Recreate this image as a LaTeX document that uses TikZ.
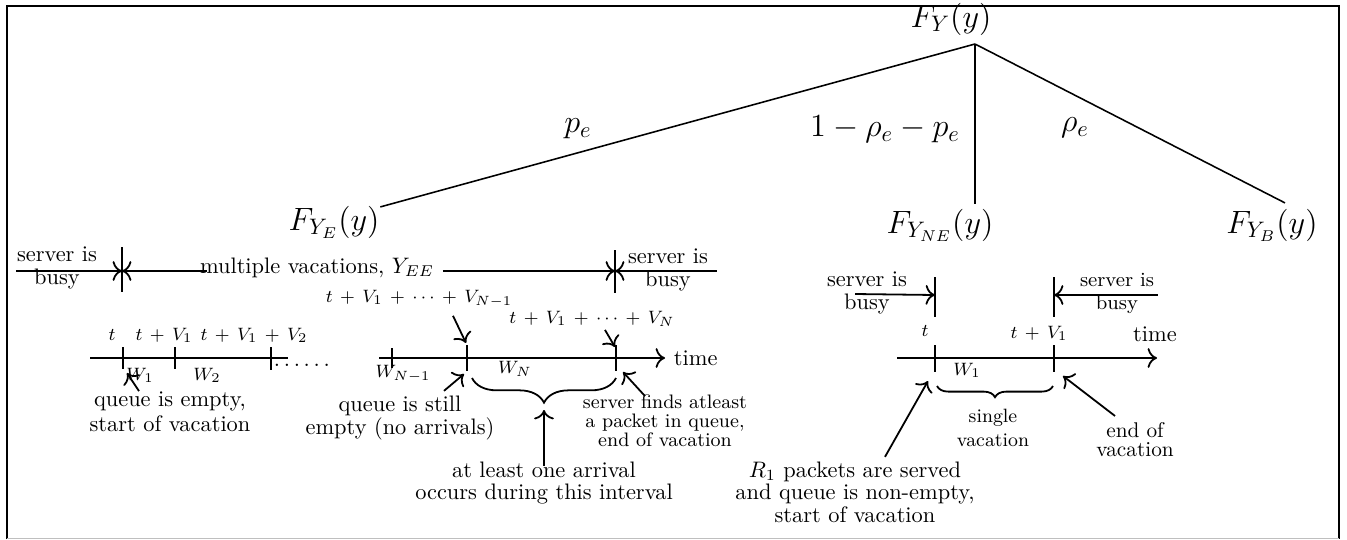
\documentclass[tikz,border=0pt]{standalone}
\usetikzlibrary{decorations.pathreplacing,calc,arrows.meta}
\begin{document}
\begin{tikzpicture}[x=0.4464pt,y=-0.4464pt, line width=0.8pt, >={To[scale=1.25]},
  txt/.style={inner sep=0pt, align=center, font=\fontsize{10}{10.5}\selectfont},
  sm/.style={inner sep=0pt, font={\footnotesize\medmuskip=7mu\relax}},
  big/.style={inner sep=0pt, font=\fontsize{13.7}{16}\selectfont},
  tree/.style={line width=0.7pt},
  br/.style={decorate, decoration={brace, mirror, amplitude=#1}}]
\useasboundingbox (0,0) rectangle (1347,539);
% frame
\draw[line width=0.9pt] (7,539) -- (7,6) -- (1339,6) -- (1339,539);
\draw[black!25, line width=0.5pt] (7,538.5) -- (1339,538.5);

% ---------------- tree ----------------
\node[big, anchor=base] (FY) at (951,27) {$F_Y(y)$};
\coordinate (apex) at (975,44);
\node[big, anchor=base] (FYE) at (334,230) {$F_{Y_E}(y)$};
\node[big, anchor=base] (FYNE) at (940,233) {$F_{Y_{NE}}(y)$};
\node[big, anchor=base] (FYB) at (1272,233) {$F_{Y_B}(y)$};
\draw[tree] (apex) -- ($(FYE.north east)+(0,2)$);
\draw[tree] (apex) -- ($(apex |- FYNE.north)+(0,-4)$);
\draw[tree] (apex) -- ($(FYB.north)+(13,-5)$);
\node[big] (pe) at (578,129) {$p_e$};
\node[big] (mid) at (885,129) {$1-\rho_e-p_e$};
\node[big] (rho) at (1075,128) {$\rho_e$};

% ---------------- multiple vacations ----------------
\coordinate (r1) at (0,271);
\coordinate (t1) at (122,271);
\coordinate (t2) at (615,271);
\node[txt] (sb1) at (57,268) {server is\\busy};
\node[txt, anchor=base] (mv) at (317,273) {multiple vacations, $Y_{EE}$};
\node[txt] (sb2) at (668,270) {server is\\busy};
\draw ($(t1)+(0,-24)$) -- ($(t1)+(0,21)$);
\draw ($(t2)+(0,-21)$) -- ($(t2)+(0,22)$);
\draw[->] (sb1.west |- r1) -- (t1);
\draw[->] ($(mv.west |- r1)+(8,0)$) -- (t1);
\draw[->] ($(mv.east |- r1)+(8,0)$) -- (t2);
\draw[->] ($(sb2.east |- r1)+(8,0)$) -- (t2);

% left timeline
\coordinate (a0) at (90,358);
\coordinate (a1) at (288,358);
\coordinate (ta) at (123,358);
\coordinate (tb) at (175,358);
\coordinate (tc) at (271,358);
\draw (a0) -- (a1);
\draw ($(ta)+(0,-11)$) -- ($(ta)+(0,11)$);
\draw ($(tb)+(0,-11)$) -- ($(tb)+(0,11)$);
\draw ($(tc)+(0,-11)$) -- ($(tc)+(0,12)$);
\node[txt, anchor=base west] (dots) at (273,366) {$\ldots\ldots$};
\node[sm, anchor=base] (lt) at (112,340) {$t$};
\node[sm, anchor=base] (ltv) at (164,340) {$t+V_1$};
\node[sm, anchor=base] (ltvv) at (254,340) {$t+V_1+V_2$};
\node[sm, anchor=base] (lw1) at (140,380) {$W_1$};
\node[sm, anchor=base] (lw2) at (207,380) {$W_2$};
\node[txt, font=\fontsize{10}{11.2}\selectfont] (qe) at (170,412) {queue is empty,\\start of vacation};
\draw[->] ($(qe.north)+(-31,0)$) -- ($(ta)+(4,15)$);

% middle timeline
\coordinate (m0) at (379,358);
\coordinate (tm1) at (392,358);
\coordinate (tm2) at (467,358);
\coordinate (tm3) at (616,358);
\node[txt, anchor=west] (time1) at (673,358) {time};
\draw[->] (m0) -- ($(time1.west)+(-8,0)$);
\draw ($(tm1)+(0,-10)$) -- ($(tm1)+(0,10)$);
\draw ($(tm2)+(0,-13)$) -- ($(tm2)+(0,13)$);
\draw ($(tm3)+(0,-13)$) -- ($(tm3)+(0,13)$);
\node[sm, anchor=base] (lvn1) at (419,302) {$t+V_1+\cdots+V_{N-1}$};
\node[sm, anchor=base] (lvn) at (592,323) {$t+V_1+\cdots+V_N$};
\draw[->] ($(lvn1.south)+(34,8)$) -- ($(tm2)+(-1,-15)$);
\draw[->] ($(lvn.south)+(13,3)$) -- ($(tm3)+(-1,-11)$);
\node[sm, anchor=base] (wn1) at (403,377) {$W_{N-1}$};
\node[sm, anchor=base] (wn) at (515,373) {$W_N$};
\draw[br=11pt] ($(tm2)+(5,20)$) -- ($(tm3)+(0,20)$);
\coordinate (btip) at (544,410);
\node[txt, font=\fontsize{10}{9.9}\selectfont] (al) at (544,483) {at least one arrival\\occurs during this interval};
\draw[->] ($(al.north)+(0,5)$) -- (btip);
\node[txt, font=\fontsize{10}{9}\selectfont] (qs) at (400,418) {queue is still\\empty (no arrivals)};
\draw[->] ($(qs.north)+(44,-4)$) -- ($(tm2)+(-3,16)$);
\node[txt, font=\fontsize{8.7}{8.5}\selectfont] (sf) at (665,421) {server finds atleast\\a packet in queue,\\end of vacation};
\draw[->] ($(sf.north)+(-20,2)$) -- ($(tm3)+(7,14)$);

% ---------------- single vacation ----------------
\coordinate (ur1) at (935,295);
\coordinate (ur2) at (1054,295);
\node[txt] (sb3) at (867,293) {server is\\busy};
\node[txt, font=\fontsize{9}{10.3}\selectfont] (sb4) at (1117,293) {server is\\busy};
\draw ($(ur1)+(0,-18)$) -- ($(ur1)+(0,22)$);
\draw ($(ur2)+(0,-18)$) -- ($(ur2)+(0,22)$);
\draw[->] ($(sb3.center)+(-12,1)$) -- (ur1);
\draw[->] ($(sb4.east |- ur2)+(3,0)$) -- (ur2);

\coordinate (s0) at (897,358);
\coordinate (s1) at (1157,358);
\coordinate (tr1) at (935,358);
\coordinate (tr2) at (1054,358);
\draw[->] (s0) -- (s1);
\node[txt, anchor=base] (time2) at (1155,341) {time};
\draw ($(tr1)+(0,-13)$) -- ($(tr1)+(0,14)$);
\draw ($(tr2)+(0,-13)$) -- ($(tr2)+(0,14)$);
\node[sm, anchor=base] (rt) at (925,336) {$t$};
\node[sm, anchor=base] (rtv) at (1039,338) {$t+V_1$};
\node[sm, anchor=base] (rw1) at (967,375) {$W_1$};
\draw[br=5pt] ($(tr1)+(2,28)$) -- ($(tr2)+(-1,28)$);
\node[txt, font=\fontsize{8.6}{10.7}\selectfont] (sv) at (993,428) {single\\vacation};
\node[txt, font=\fontsize{10}{8}\selectfont] (r1n) at (855,492) {$R_1$ packets are served\\and queue is non-empty,\\start of vacation};
\draw[->] ($(r1n.north)+(30,-4)$) -- ($(tr1)+(-7,23)$);
\node[txt, font=\fontsize{9.5}{8.5}\selectfont] (eov) at (1135,440) {end of\\vacation};
\draw[->] ($(eov.north)+(-20,-6)$) -- ($(tr2)+(9,18)$);
\end{tikzpicture}
\end{document}
